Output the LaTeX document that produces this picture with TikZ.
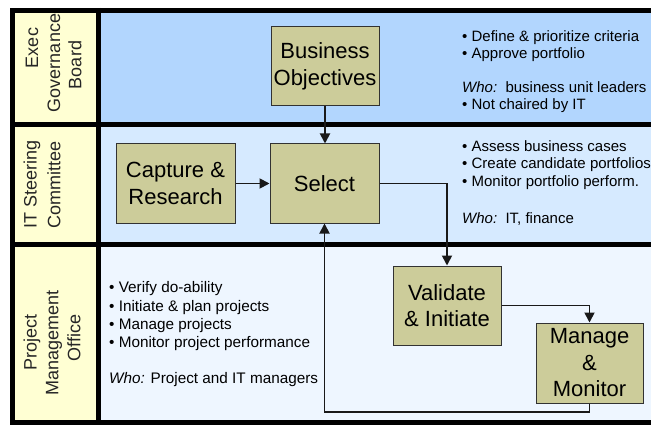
\documentclass[tikz,border=0pt]{standalone}
\usepackage{fontspec}
\setmainfont{Liberation Sans}
\usetikzlibrary{arrows.meta}
\definecolor{laneA}{RGB}{178,214,254}
\definecolor{laneB}{RGB}{214,234,255}
\definecolor{laneC}{RGB}{238,246,255}
\definecolor{labfill}{RGB}{255,255,211}
\definecolor{boxfill}{RGB}{204,204,154}
\definecolor{boxline}{RGB}{50,50,50}
\tikzset{
  sepline/.style={line width=5pt, black},
  stagebox/.style={draw=boxline, fill=boxfill, line width=1pt, inner sep=0pt, align=center,
    font=\fontsize{22}{26.5}\selectfont},
  arr/.style={line width=1.8pt, black!90, -{Triangle[length=10pt,width=10pt]}},
  bul/.style={anchor=base west, inner sep=0pt, font=\fontsize{15}{17}\selectfont},
  bulC/.style={anchor=base west, inner sep=0pt, font=\fontsize{15.3}{18}\selectfont},
  lanelab/.style={rotate=90, inner sep=0pt, font=\fontsize{18}{22}\selectfont, text=black!85}
}
\begin{document}
\begin{tikzpicture}[x=1pt,y=-1pt]
\useasboundingbox (0,0) rectangle (651,425);
\clip (0,0) rectangle (651,425);
% lane fills
\fill[laneA] (12,12) rectangle (670,124.5);
\fill[laneB] (12,124.5) rectangle (670,244);
\fill[laneC] (12,244) rectangle (670,422);
\fill[labfill] (12,12) rectangle (98,422);
% frame lines
\draw[sepline] (670,10.5) -- (12.5,10.5) -- (12.5,422.5) -- (670,422.5);
\draw[sepline] (98,8) -- (98,425);
\draw[sepline] (10,124.5) -- (670,124.5);
\draw[sepline] (10,244) -- (670,244);
% lane labels
\node[lanelab] (l1a) at (32,48) {Exec};
\node[lanelab] (l1b) at (54,63) {Governance};
\node[lanelab] (l1c) at (75,65) {Board};
\node[lanelab] (l2a) at (32,184) {IT Steering};
\node[lanelab] (l2b) at (54,185) {Committee};
\node[lanelab] (l3a) at (32,342) {Project};
\node[lanelab] (l3b) at (54,343) {Management};
\node[lanelab] (l3c) at (74,338) {Office};
% stage boxes
\node[stagebox, minimum width=108pt, minimum height=79pt] (bo) at (325,66.5) {Business\\Objectives};
\node[stagebox, minimum width=119pt, minimum height=79pt] (cap) at (175.5,183.5) {Capture \&\\Research};
\node[stagebox, minimum width=109pt, minimum height=79pt] (sel) at (324.5,183.5) {Select};
\node[stagebox, minimum width=108pt, minimum height=79pt] (val) at (447,305.5) {Validate\\\& Initiate};
\node[stagebox, minimum width=107pt, minimum height=80pt] (mm) at (589.5,363) {Manage\\\&\\Monitor};
% connectors
\coordinate (loopy) at (589.5,412);
\draw[arr] (bo.south) -- (bo.south |- sel.north);
\draw[arr] (cap.east) -- (sel.west);
\draw[arr] (sel.east) -| (val.north);
\draw[arr] (val.east) -| (mm.north);
\draw[arr] (mm.south) -- (loopy) -| (sel.south);
% lane 1 text
\node[bul] (t1a) at (462,42) {• Define \& prioritize criteria};
\node[bul] (t1b) at (462,59) {• Approve portfolio};
\node[bul] (t1c) at (462,93) {\textit{Who:}\ \ business unit leaders};
\node[bul] (t1d) at (462,110) {• Not chaired by IT};
% lane 2 text
\node[bul] (t2a) at (462,152) {• Assess business cases};
\node[bul] (t2b) at (462,169) {• Create candidate portfolios};
\node[bul] (t2c) at (462,186) {• Monitor portfolio perform.};
\node[bul] (t2d) at (462,223) {\textit{Who:}\ \ IT, finance};
% lane 3 text
\node[bulC] (t3a) at (109,292) {• Verify do-ability};
\node[bulC] (t3b) at (109,311) {• Initiate \& plan projects};
\node[bulC] (t3c) at (109,329) {• Manage projects};
\node[bulC] (t3d) at (109,347) {• Monitor project performance};
\node[bulC] (t3e) at (109,383) {\textit{Who:} Project and IT managers};
\end{tikzpicture}
\end{document}
